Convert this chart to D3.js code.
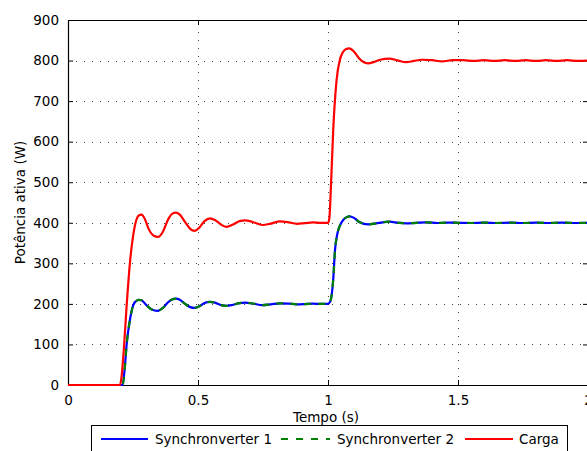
<!DOCTYPE html>
<html><head><meta charset="utf-8">
<script src="https://cdn.jsdelivr.net/npm/d3@7"></script>
<style>
html,body{margin:0;padding:0;background:#fff;}
svg{display:block;}
text{font-family:"DejaVu Sans",sans-serif;font-size:13.5px;fill:#000;}
</style></head>
<body>
<svg id="c" width="587" height="451"></svg>
<script>
// ---- data ----
const xTicks = [0, 0.5, 1, 1.5, 2];
const yTicks = [0, 100, 200, 300, 400, 500, 600, 700, 800, 900];
const seriesNames = ["Synchronverter 1", "Synchronverter 2", "Carga"];

const cargaT = [0, 0.2, 0.205, 0.215, 0.225, 0.238, 0.251, 0.262, 0.272, 0.283, 0.295, 0.31, 0.33, 0.347, 0.365, 0.385, 0.4, 0.415, 0.43, 0.45, 0.47, 0.486, 0.505, 0.525, 0.546, 0.565, 0.59, 0.61, 0.635, 0.66, 0.681, 0.71, 0.748, 0.78, 0.815, 0.85, 0.88, 0.91, 0.943, 0.97, 1.0, 1.005, 1.012, 1.02, 1.033, 1.045, 1.055, 1.068, 1.082, 1.1, 1.12, 1.14, 1.155, 1.175, 1.2, 1.236, 1.27, 1.3, 1.33, 1.36, 1.4, 1.44, 1.48, 1.52, 1.56, 1.6, 1.64, 1.68, 1.72, 1.76, 1.8, 1.84, 1.88, 1.92, 1.96, 2.0];
const cargaP = [0, 0, 15, 90, 190, 300, 370, 405, 418, 420, 410, 385, 368, 365, 378, 408, 422, 425, 420, 402, 385, 380, 388, 404, 411, 407, 395, 390, 396, 404, 406, 402, 394.5, 398, 403.5, 401, 397.5, 399, 401, 400, 400, 410, 500, 628, 752, 800, 818, 828, 830, 822, 805, 795, 793, 796, 802, 805, 800, 796, 799, 802, 801, 798, 801, 801, 799, 801, 799, 801, 799, 801, 799, 801, 799, 801, 799, 800];

const sync1T = [0, 0.21, 0.218, 0.226, 0.238, 0.251, 0.262, 0.272, 0.283, 0.3, 0.32, 0.345, 0.365, 0.385, 0.4, 0.415, 0.43, 0.45, 0.47, 0.486, 0.505, 0.525, 0.546, 0.565, 0.59, 0.61, 0.635, 0.66, 0.681, 0.71, 0.748, 0.78, 0.815, 0.85, 0.88, 0.91, 0.943, 0.97, 1.0, 1.008, 1.02, 1.027, 1.035, 1.045, 1.06, 1.072, 1.082, 1.1, 1.12, 1.155, 1.19, 1.236, 1.27, 1.3, 1.34, 1.38, 1.42, 1.46, 1.5, 1.55, 1.6, 1.65, 1.7, 1.75, 1.8, 1.85, 1.9, 1.95, 2.0];
const sync1P = [0, 0, 40, 103, 160, 197, 207, 210, 209, 198, 187, 183, 190, 204, 211, 213, 210, 200, 192, 190, 194, 202, 205, 203, 197, 195, 198, 202, 203, 201, 197, 199, 201.5, 200.5, 199, 199.5, 200.5, 200, 200, 205, 260, 333, 370, 392, 408, 414, 416, 412, 402, 396, 399, 402.6, 400, 398.5, 400, 401, 399.5, 400.5, 400, 399.5, 400.5, 399.5, 400.5, 399.5, 400.5, 399.5, 400.5, 399.5, 400];

const sync2T = sync1T.slice();
const sync2P = [0, 0, 40, 103, 160, 197, 207, 210, 209, 198, 187, 183, 190, 204, 211, 213, 210, 200, 192, 190, 194, 202, 205, 203, 197, 195, 198, 202, 203, 201, 197, 199, 201.5, 200.5, 199, 199.5, 200.5, 200, 200, 205, 260, 333, 370, 392, 408, 414, 416, 412, 402, 396, 399, 402.6, 400, 398.5, 400, 401, 399.5, 400.5, 400, 399.5, 400.5, 399.5, 400.5, 399.5, 400.5, 399.5, 400.5, 399.5, 400];

// ---- layout ----
const L = 68, R = 588, T = 20, B = 385;
const svg = d3.select("#c");
const x = d3.scaleLinear().domain([0, 2]).range([L, R]);
const y = d3.scaleLinear().domain([0, 900]).range([B, T]);

// grid
const grid = svg.append("g").attr("stroke", "#444").attr("stroke-width", 1).attr("stroke-dasharray", "1,7");
grid.selectAll(".gx").data(xTicks.slice(1, -1)).enter().append("line")
  .attr("x1", d => Math.round(x(d)) + 0.5).attr("x2", d => Math.round(x(d)) + 0.5)
  .attr("y1", B).attr("y2", T);
grid.selectAll(".gy").data(yTicks.slice(1, -1)).enter().append("line")
  .attr("y1", d => Math.round(y(d)) + 0.5).attr("y2", d => Math.round(y(d)) + 0.5)
  .attr("x1", L).attr("x2", R);

// axes
const xAx = d3.axisBottom(x).tickValues(xTicks).tickSizeInner(-5).tickSizeOuter(0).tickPadding(10).tickFormat(d3.format("~g"));
const yAx = d3.axisLeft(y).tickValues(yTicks).tickSizeInner(-5).tickSizeOuter(0).tickPadding(9).tickFormat(d3.format("d"));
const gx = svg.append("g").attr("transform", `translate(0,${B})`).call(xAx);
const gy = svg.append("g").attr("transform", `translate(${L},0)`).call(yAx);
const gxt = svg.append("g").attr("transform", `translate(0,${T})`).call(d3.axisTop(x).tickValues(xTicks).tickSizeInner(-5).tickSizeOuter(0).tickFormat(""));
const gyr = svg.append("g").attr("transform", `translate(${R},0)`).call(d3.axisRight(y).tickValues(yTicks).tickSizeInner(-5).tickSizeOuter(0).tickFormat(""));
[gx, gy, gxt, gyr].forEach(g => {
  g.select(".domain").attr("stroke", "#000").attr("stroke-width", 1.2);
  g.selectAll(".tick line").attr("stroke", "#000");
  g.selectAll("text").style("font-family", '"DejaVu Sans",sans-serif').style("font-size", "13.5px").attr("fill", "#000");
});

// axis labels
svg.append("text").attr("x", (L + R) / 2 - 2).attr("y", 422).attr("text-anchor", "middle").text("Tempo (s)");
svg.append("text").attr("transform", `translate(25,${(T + B) / 2}) rotate(-90)`).attr("text-anchor", "middle").text("Potência ativa (W)");

// lines
const line = d3.line().x(d => x(d[0])).y(d => y(d[1])).curve(d3.curveMonotoneX);
const s1 = sync1T.map((t, i) => [t, sync1P[i]]);
const s2 = sync2T.map((t, i) => [t, sync2P[i]]);
const s3 = cargaT.map((t, i) => [t, cargaP[i]]);
const colors = ["#0000ff", "#008000", "#ff0000"];
svg.append("path").attr("d", line(s1)).attr("fill", "none").attr("stroke", colors[0]).attr("stroke-width", 2.2);
svg.append("path").attr("d", line(s2)).attr("fill", "none").attr("stroke", colors[1]).attr("stroke-width", 2.2).attr("stroke-dasharray", "7,7");
svg.append("path").attr("d", line(s3)).attr("fill", "none").attr("stroke", colors[2]).attr("stroke-width", 2.2);

// legend
const lg = svg.append("g");
lg.append("rect").attr("x", 91.5).attr("y", 425.5).attr("width", 476).attr("height", 40).attr("fill", "#fff").attr("stroke", "#000").attr("stroke-width", 1);
const items = [
  {x1: 101, x2: 148, tx: 155, dash: null},
  {x1: 281, x2: 330, tx: 337, dash: "7,8"},
  {x1: 465, x2: 513, tx: 519, dash: null}
];
items.forEach((it, i) => {
  lg.append("line").attr("x1", it.x1).attr("x2", it.x2).attr("y1", 439).attr("y2", 439)
    .attr("stroke", colors[i]).attr("stroke-width", 2.2).attr("stroke-dasharray", it.dash);
  lg.append("text").attr("x", it.tx).attr("y", 444).text(seriesNames[i]);
});
</script>
</body></html>
